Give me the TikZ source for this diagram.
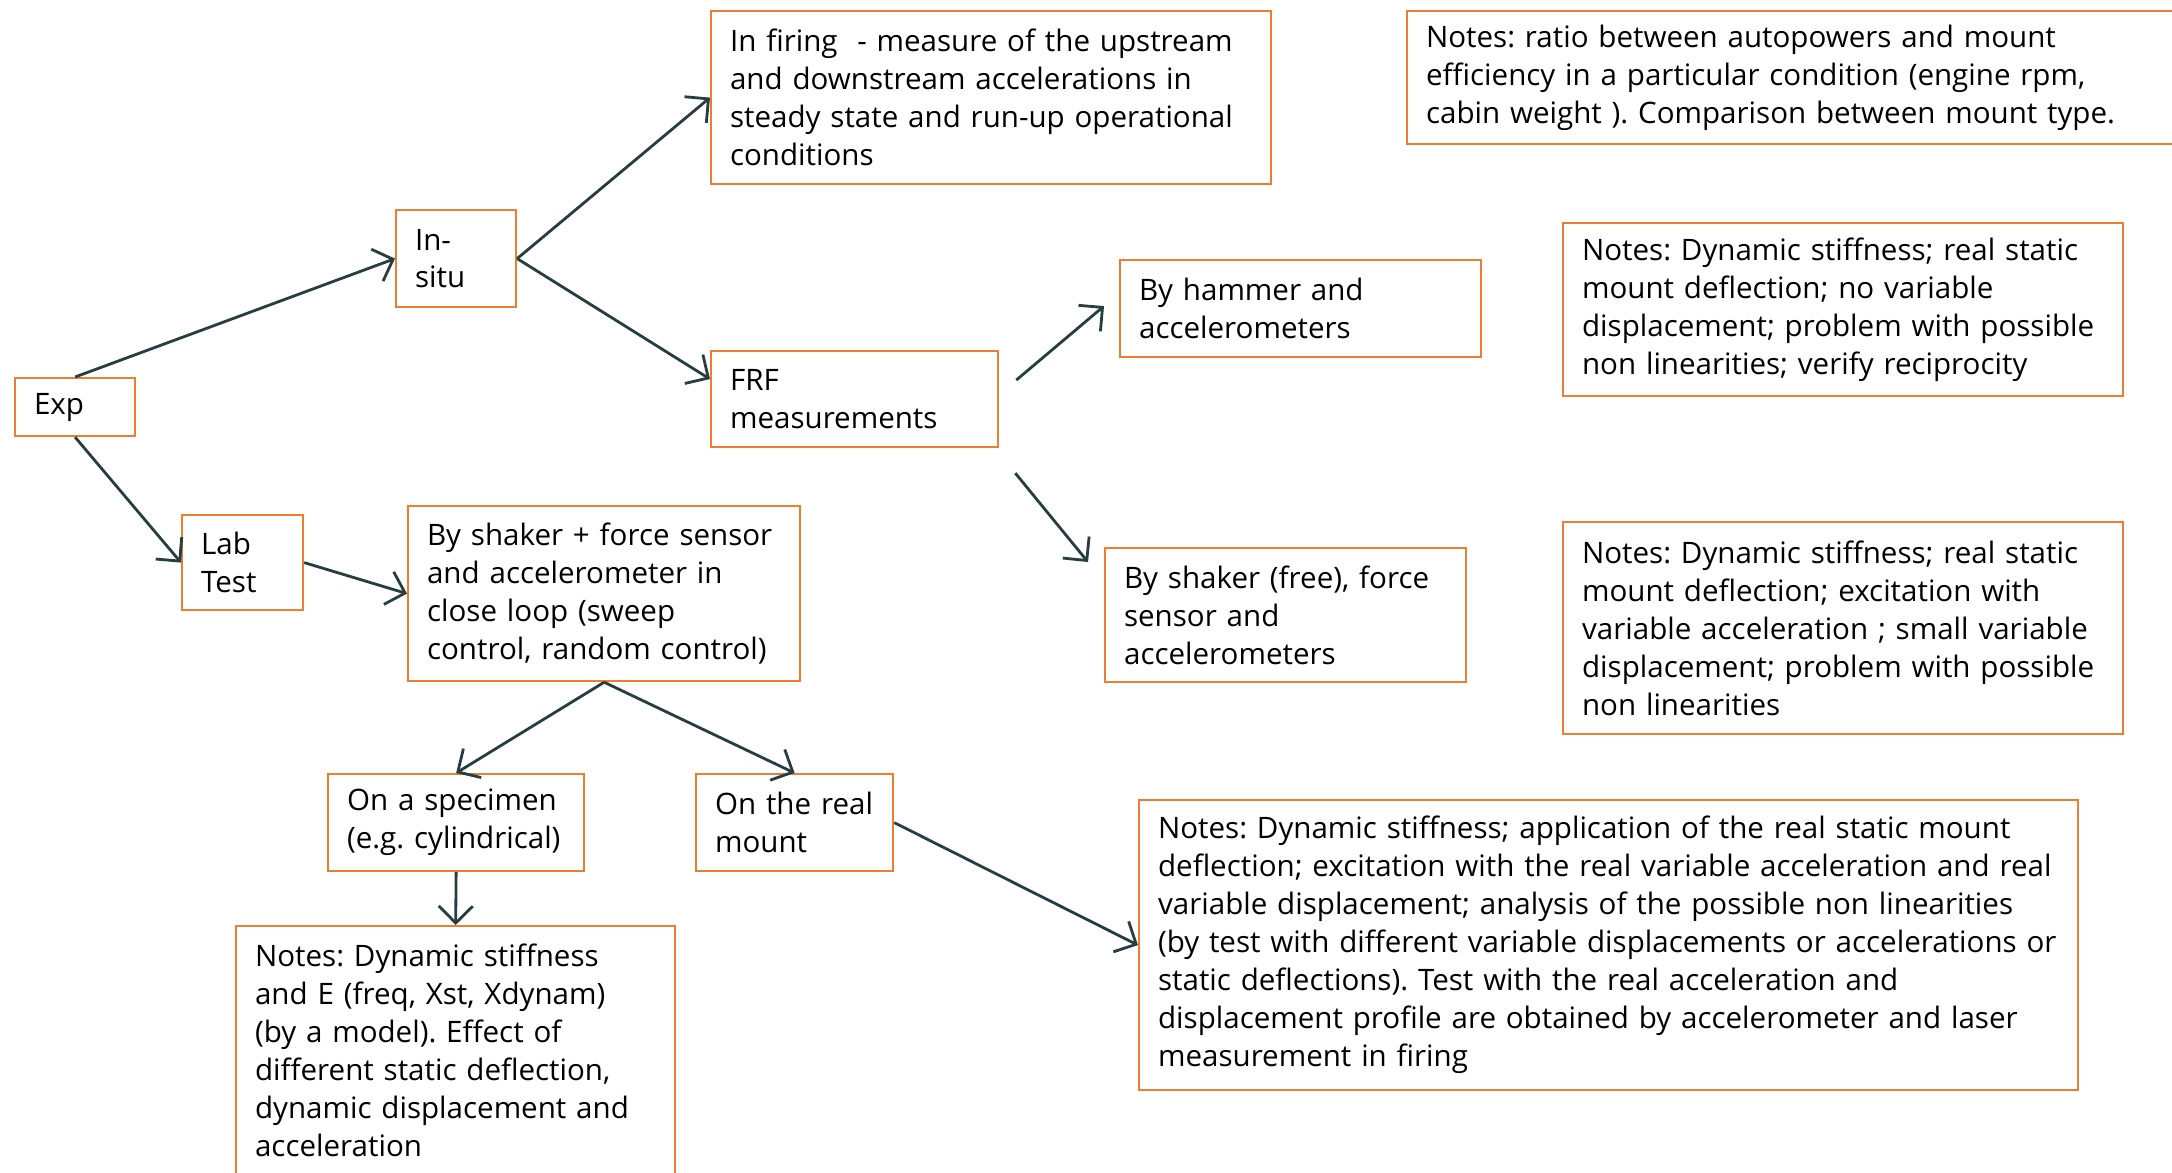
\documentclass[tikz,border=0pt]{standalone}
\usepackage{fontspec}
\setmainfont{Open Sans}
\usetikzlibrary{positioning}
\usetikzlibrary{arrows.meta}

\definecolor{boxorange}{RGB}{237,125,49}
\definecolor{arrowgray}{RGB}{38,62,66}

\frenchspacing

\begin{document}
\begin{tikzpicture}[
            x = 0.01cm, y = -0.01cm, % one unit = one pixel of the slide
            > = {Straight Barb[length=1.7mm,width=3.4mm]}, % open arrow head
            line width = 0.8pt
        ]

        \tikzstyle{box}=[
            draw = boxorange,
            line width = 0.6pt,
            anchor = north west,
            inner xsep = 0.19cm,
            inner ysep = 0pt,
            align = left,
            font = \fontsize{8.4}{10.8}\selectfont
        ]
        \tikzstyle{link}=[->, color = arrowgray]

        \useasboundingbox (0,0) rectangle (2172,1172);

	% EXPERIMENTAL BRANCHES
        \node[box, text width=0.82cm, minimum height=0.58cm] (exp) at (14,377) {\raisebox{-0.4ex}{Exp}};
        \node[box, text width=0.82cm, minimum height=0.97cm] (insitu) at (395,209) {In-\\situ};
        \node[box, text width=0.83cm, minimum height=0.95cm] (labtest) at (181,514) {Lab\\Test};

	% IN SITU
        \node[box, text width=5.22cm, minimum height=1.73cm] (firing) at (710,10)
            {In firing\ \ - measure of the upstream\\and downstream accelerations in\\steady state and run-up operational\\conditions};
        \node[box, text width=2.49cm, minimum height=0.96cm] (frf) at (710,350) {FRF\\measurements};
        \node[box, text width=3.23cm, minimum height=0.97cm] (hammer) at (1119,259) {By hammer and\\accelerometers};
        \node[box, text width=3.23cm, minimum height=1.34cm] (shakerfree) at (1104,547)
            {By shaker (free), force\\sensor and\\accelerometers};

	% NOTES ON THE RIGHT
        \node[box, text width=7.46cm, minimum height=1.33cm] (notesratio) at (1406,10)
            {Notes: ratio between autopowers and mount\\efficiency in a particular condition (engine rpm,\\cabin weight ). Comparison between mount type.};
        \node[box, text width=5.22cm, minimum height=1.73cm] (noteshammer) at (1562,222)
            {Notes: Dynamic stiffness; real static\\mount deflection; no variable\\displacement; problem with possible\\non linearities; verify reciprocity};
        \node[box, text width=5.22cm, minimum height=2.12cm] (notesfree) at (1562,521)
            {Notes: Dynamic stiffness; real static\\mount deflection; excitation with\\variable acceleration ; small variable\\displacement; problem with possible\\non linearities};

	% LAB TEST
        \node[box, text width=3.54cm, minimum height=1.75cm] (shaker) at (407,505)
            {By shaker + force sensor\\and accelerometer in\\close loop (sweep\\control, random control)};
        \node[box, text width=2.18cm, minimum height=0.97cm] (specimen) at (327,773) {On a specimen\\(e.g. cylindrical)};
        \node[box, text width=1.59cm, minimum height=0.97cm] (realmount) at (695,773) {On the real\\mount};
        \node[box, text width=4.01cm, minimum height=2.49cm] (notesspec) at (235,925)
            {Notes: Dynamic stiffness\\and E (freq, Xst, Xdynam)\\(by a model). Effect of\\different static deflection,\\dynamic displacement and\\acceleration};
        \node[box, text width=9.0cm, minimum height=2.90cm] (notesmount) at (1138,799)
            {Notes: Dynamic stiffness; application of the real static mount\\deflection; excitation with the real variable acceleration and real\\variable displacement; analysis of the possible non linearities\\(by test with different variable displacements or accelerations or\\static deflections). Test with the real acceleration and\\displacement profile are obtained by accelerometer and laser\\measurement in firing};

	% FREE ENDS OF THE FRF ARROWS
        \coordinate (frfup) at ([xshift=0.17cm,yshift=0.19cm]frf.east);
        \coordinate (frfdown) at ([xshift=0.16cm,yshift=-0.74cm]frf.east);
        \coordinate (hammerin) at ([xshift=-0.15cm,yshift=0.025cm]hammer.west);
        \coordinate (freein) at ([xshift=-0.16cm,yshift=-0.15cm]shakerfree.north west);

        \path[link] (exp.north) edge (insitu.west);
        \path[link] (exp.south) edge (labtest.west);
        \path[link] (insitu.east) edge (firing.west);
        \path[link] (insitu.east) edge ([yshift=0.2cm]frf.west);
        \path[link] (frfup) edge (hammerin);
        \path[link] (frfdown) edge (freein);
        \path[link] (labtest.east) edge (shaker.west);
        \path[link] (shaker.south) edge (specimen.north);
        \path[link] (shaker.south) edge (realmount.north);
        \path[link] (specimen.south) edge (notesspec.north);
        \path[link] (realmount.east) edge (notesmount.west);

  \end{tikzpicture}
\end{document}
